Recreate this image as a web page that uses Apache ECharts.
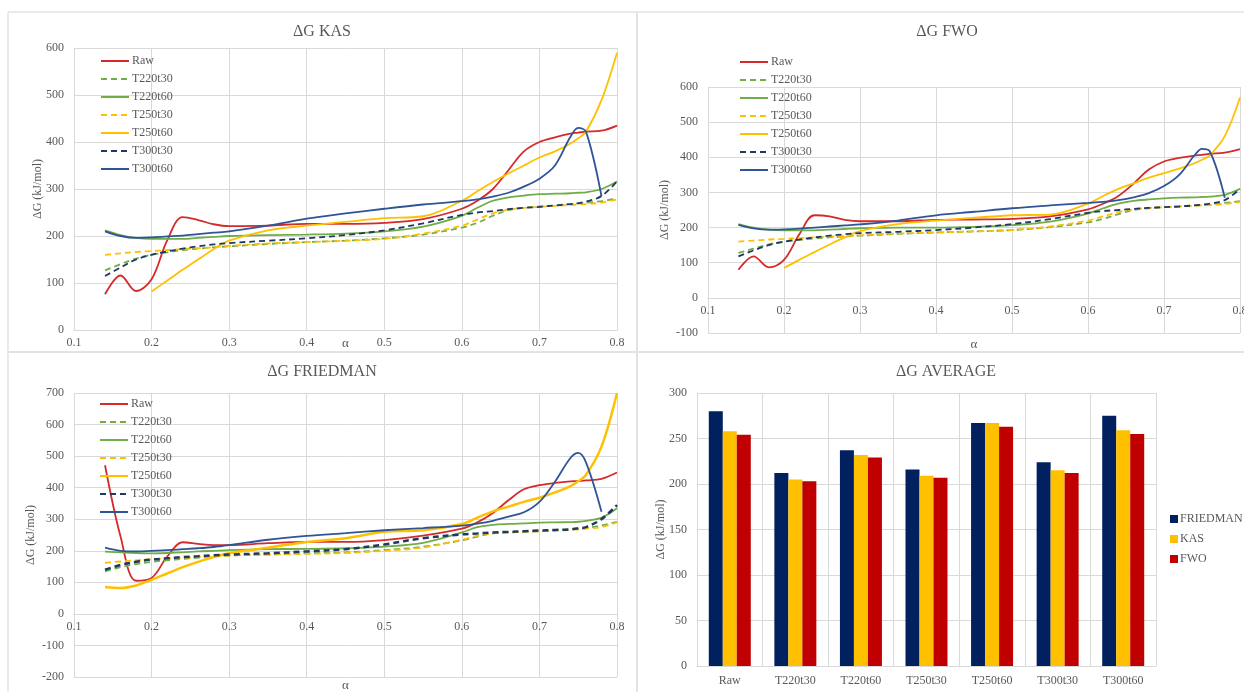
<!DOCTYPE html>
<html><head><meta charset="utf-8">
<script src="https://cdn.jsdelivr.net/npm/echarts@6/dist/echarts.min.js"></script>
<style>html,body{margin:0;padding:0;background:#fff}#c{width:1244px;height:692px}</style>
</head><body><div id="c"></div>
<script>
// ---- data ----
const alpha = [0.14,0.16,0.18,0.20,0.22,0.24,0.26,0.28,0.30,0.35,0.40,0.45,0.50,0.55,0.60,0.62,0.64,0.66,0.68,0.70,0.72,0.74,0.75,0.76,0.78,0.80];
const seriesNames = ['Raw','T220t30','T220t60','T250t30','T250t60','T300t30','T300t60'];

// ΔG KAS
const kasRaw     = [76,116,83,108,190,240,234,225,221,222,226,226,228,236,258,275,300,340,380,400,410,418,420,422,424,435];
const kasT220t30 = [127,140,152,160,165,170,173,176,178,183,187,190,195,203,218,228,243,255,260,263,265,268,269,271,274,280];
const kasT220t60 = [212,202,196,194,194,194,196,198,200,202,203,205,210,220,243,260,275,282,286,289,290,291,292,293,300,316];
const kasT250t30 = [160,163,166,168,170,172,174,176,179,184,187,190,194,205,222,235,248,256,260,262,264,266,267,268,271,278];
const kasT250t60 = [null,null,null,82,105,128,150,172,190,212,222,230,238,242,275,295,315,333,350,367,380,397,408,422,489,590];
const kasT300t30 = [115,133,150,160,167,173,178,182,185,190,195,202,212,227,245,250,253,257,260,262,265,268,270,273,285,316];
const kasT300t60 = [210,200,196,197,199,201,204,207,210,222,237,248,258,267,274,278,284,292,305,322,350,411,430,422,285,null];

// ΔG FWO
const fwoRaw     = [80,118,87,108,180,235,232,222,218,218,222,223,225,232,252,268,290,325,365,388,398,405,407,410,413,423];
const fwoT220t30 = [128,140,152,160,165,169,172,175,177,182,186,189,193,201,215,225,238,250,255,258,260,263,264,266,270,275];
const fwoT220t60 = [210,200,194,192,192,192,194,196,198,200,200,202,207,217,240,255,268,276,280,283,285,286,287,288,293,310];
const fwoT250t30 = [160,163,166,168,170,172,174,176,178,183,186,189,193,203,220,232,244,252,256,258,260,262,263,264,267,273];
const fwoT250t60 = [null,null,null,85,108,130,152,172,190,210,220,228,235,237,268,290,310,326,342,355,368,383,393,405,460,570];
const fwoT300t30 = [118,135,150,160,166,172,177,181,184,188,193,200,210,224,242,247,250,253,256,258,260,263,265,268,278,310];
const fwoT300t60 = [208,198,194,195,197,200,203,206,209,220,235,245,255,263,270,273,278,286,298,318,350,405,424,418,285,null];

// ΔG FRIEDMAN
const frRaw     = [471,245,105,114,181,227,222,218,218,224,228,228,234,248,270,290,320,360,395,408,415,420,421,423,428,448];
const frT220t30 = [135,148,158,165,170,174,178,182,185,188,192,195,202,213,233,245,255,258,260,262,265,268,270,272,280,292];
const frT220t60 = [197,195,193,192,193,195,198,200,202,205,206,208,213,225,258,275,282,285,287,289,290,291,292,295,305,335];
const frT250t30 = [162,166,170,173,175,177,180,182,185,188,190,193,200,210,235,248,255,258,260,262,264,266,268,270,275,290];
const frT250t60 = [85,82,90,108,128,148,165,180,192,210,228,240,260,265,285,305,325,340,355,368,385,405,420,440,530,700];
const frT300t30 = [140,155,165,172,176,180,183,186,188,192,198,205,220,240,252,255,258,260,262,264,266,268,271,275,300,345];
const frT300t60 = [210,200,198,200,202,205,208,212,218,235,247,256,265,272,280,286,295,308,322,355,419,494,510,480,324,null];

// ΔG AVERAGE
const avgCategories = ['Raw','T220t30','T220t60','T250t30','T250t60','T300t30','T300t60'];
const avgFriedman = [280,212,237,216,267,224,275];
const avgKAS      = [258,205,232,209,267,215,259];
const avgFWO      = [254,203,229,207,263,212,255];

// ---- styles ----
const FONT = 'Liberation Serif';
const TXT = '#595959';
const GRID = '#d9d9d9';
const lineStyles = {
  'Raw':     {color:'#D42A2A', type:'solid'},
  'T220t30': {color:'#70AD47', type:[6,4]},
  'T220t60': {color:'#70AD47', type:'solid'},
  'T250t30': {color:'#FFC000', type:[6,4]},
  'T250t60': {color:'#FFC000', type:'solid'},
  'T300t30': {color:'#1F3864', type:[6,4]},
  'T300t60': {color:'#2F5597', type:'solid'}
};
const panels = [
  [kasRaw,kasT220t30,kasT220t60,kasT250t30,kasT250t60,kasT300t30,kasT300t60],
  [fwoRaw,fwoT220t30,fwoT220t60,fwoT250t30,fwoT250t60,fwoT300t30,fwoT300t60],
  [frRaw,frT220t30,frT220t60,frT250t30,frT250t60,frT300t30,frT300t60]
];

const series = [];
panels.forEach((vals, gi) => {
  vals.forEach((v, si) => {
    const nm = seriesNames[si];
    const st = lineStyles[nm];
    series.push({
      type:'line', name:nm, xAxisIndex:gi, yAxisIndex:gi,
      data: alpha.map((a,i)=>[a, v[i]]),
      smooth:0.35, symbol:'none', showSymbol:false,
      lineStyle:{color:st.color, type:st.type, width:(gi===2 && (nm==='T300t30'||nm==='T250t60'))?2.5:1.8},
      itemStyle:{color:st.color},
      z: 2
    });
  });
});
const barColors = ['#002060','#FFC000','#C00000'];
[['FRIEDMAN',avgFriedman],['KAS',avgKAS],['FWO',avgFWO]].forEach(([nm,d],i)=>{
  series.push({type:'bar', name:nm, xAxisIndex:3, yAxisIndex:3, data:d,
    barWidth:14, barGap:'0%', itemStyle:{color:barColors[i]}});
});

const axisLbl = {color:TXT, fontFamily:FONT, fontSize:12};
const split = {show:true, lineStyle:{color:GRID, width:1}};
// offset moves the x axis up onto the y = 0 line (Excel style)
function xVal(gi, gap, offset){
  return {type:'value', gridIndex:gi, min:0.1, max:0.8, interval:0.1, position:'bottom', offset,
    name:'α', nameLocation:'middle', nameGap:gap, nameMoveOverlap:false,
    nameTextStyle:{color:TXT, fontFamily:FONT, fontSize:13},
    axisLine:{show:true, onZero:false, lineStyle:{color:GRID}}, axisTick:{show:false},
    axisLabel:Object.assign({margin:7, formatter:v=>v.toFixed(1)}, axisLbl),
    splitLine:split};
}
function yVal(gi, min, max, interval, gap){
  return {type:'value', gridIndex:gi, min, max, interval,
    name:'ΔG (kJ/mol)', nameLocation:'middle', nameGap:gap, nameRotate:90, nameMoveOverlap:false,
    nameTextStyle:{color:TXT, fontFamily:FONT, fontSize:12},
    axisLine:{show:false}, axisTick:{show:false},
    axisLabel:Object.assign({margin:10}, axisLbl), splitLine:split};
}
function lineLegend(left, top){
  return {orient:'vertical', left, top, padding:0, data:seriesNames, itemWidth:28, itemHeight:14, itemGap:6,
    itemStyle:{opacity:0},
    textStyle:{color:TXT, fontFamily:FONT, fontSize:12, padding:[0,0,0,-2]}, selectedMode:false};
}
const titleStyle = {color:TXT, fontFamily:FONT, fontSize:16, fontWeight:'normal'};

const option = {
  animation:false,
  backgroundColor:'#fff',
  title:[
    {text:'ΔG KAS', left:317, top:19, textAlign:'center', textStyle:titleStyle},
    {text:'ΔG FWO', left:942, top:19, textAlign:'center', textStyle:titleStyle},
    {text:'ΔG FRIEDMAN', left:317, top:359, textAlign:'center', textStyle:titleStyle},
    {text:'ΔG AVERAGE', left:941, top:359, textAlign:'center', textStyle:titleStyle}
  ],
  legend:[
    lineLegend(100, 55),
    lineLegend(739, 56),
    lineLegend(99, 398),
    {orient:'vertical', left:1170, top:513, padding:0, data:['FRIEDMAN','KAS','FWO'], icon:'rect',
     itemWidth:8, itemHeight:8, itemGap:8,
     textStyle:{color:TXT, fontFamily:FONT, fontSize:12, padding:[0,0,0,-3]}, selectedMode:false}
  ],
  grid:[
    {left:74, top:48, width:543, height:282, outerBoundsMode:'none', containLabel:false},
    {left:708, top:87, width:532, height:246, outerBoundsMode:'none', containLabel:false},
    {left:74, top:393, width:543, height:284, outerBoundsMode:'none', containLabel:false},
    {left:697, top:393, width:459, height:273, outerBoundsMode:'none', containLabel:false}
  ],
  xAxis:[
    xVal(0, 7, 0), xVal(1, 40, -35), xVal(2, 65, -63),
    {type:'category', gridIndex:3, data:avgCategories,
     axisLine:{show:true, lineStyle:{color:GRID}}, axisTick:{show:false},
     axisLabel:Object.assign({margin:9}, axisLbl),
     splitLine:{show:true, showMinLine:true, showMaxLine:true, lineStyle:{color:GRID}}}
  ],
  yAxis:[
    yVal(0, 0, 600, 100, 30),
    yVal(1, -100, 600, 100, 37),
    yVal(2, -200, 700, 100, 37),
    yVal(3, 0, 300, 50, 30)
  ],
  graphic:[
    {type:'line', shape:{x1:8,y1:12,x2:1244,y2:12}, style:{stroke:'#e3e3e3', lineWidth:1.5}, silent:true},
    {type:'line', shape:{x1:8,y1:12,x2:8,y2:692}, style:{stroke:'#e3e3e3', lineWidth:1.5}, silent:true},
    {type:'line', shape:{x1:637,y1:12,x2:637,y2:692}, style:{stroke:'#e3e3e3', lineWidth:2}, silent:true},
    {type:'line', shape:{x1:8,y1:352,x2:1244,y2:352}, style:{stroke:'#e3e3e3', lineWidth:2}, silent:true}
  ],
  series
};
const chart = echarts.init(document.getElementById('c'), null, {renderer:'canvas'});
chart.setOption(option);
</script></body></html>
